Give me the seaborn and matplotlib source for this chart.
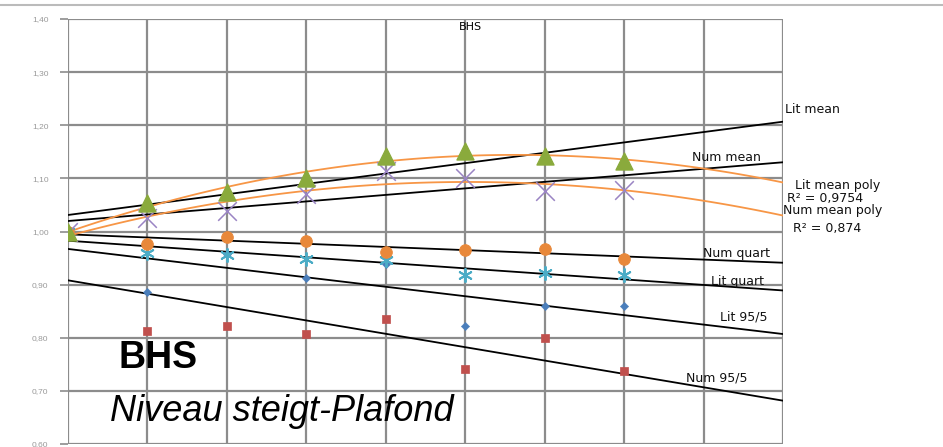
"""
BHS chart - normalised level per period with trendlines
"""

import numpy as np
import pandas as pd
import matplotlib
matplotlib.use("Agg")
import matplotlib.pyplot as plt
import seaborn as sns


periods = [0, 1, 2, 3, 4, 5, 6, 7]
lit_mean = [1.00, 1.053, 1.075, 1.100, 1.142, 1.151, 1.142, 1.132]
num_mean = [1.00, 1.026, 1.038, 1.070, 1.113, 1.100, 1.076, 1.079]
num_quart = [1.00, 0.976, 0.990, 0.982, 0.962, 0.965, 0.968, 0.948]
lit_quart = [1.00, 0.960, 0.955, 0.949, 0.947, 0.919, 0.922, 0.918]
lit_95_5 = [1.00, 0.887, 0.958, 0.913, 0.938, 0.823, 0.860, 0.860]
num_95_5 = [1.00, 0.813, 0.823, 0.808, 0.836, 0.742, 0.800, 0.738]

y_ticks = [0.60, 0.70, 0.80, 0.90, 1.00, 1.10, 1.20, 1.30, 1.40]
forecast_end = 9

GREEN = "#8aaa3c"
PURPLE = "#9a84c4"
ORANGE = "#e8883a"
CYAN = "#4bacc6"
BLUE = "#4a7ebb"
RED = "#c0504d"
GRID = "#8c8c8c"


def trend(y, deg):
    coef = np.polyfit(periods, y, deg)
    xs = np.linspace(0, forecast_end, 100)
    return pd.DataFrame({"x": xs, "y": np.polyval(coef, xs)})


if __name__ == "__main__":
    sns.set_style("white")
    plt.rcParams["font.family"] = ["Liberation Sans", "DejaVu Sans"]

    fig = plt.figure(figsize=(9.43, 4.47), dpi=100)
    ax = fig.add_axes([68 / 943, 3 / 447, (783 - 68) / 943, (444 - 19) / 447])

    # grid
    for gx in range(forecast_end + 1):
        ax.axvline(gx, color=GRID, lw=1.6, zorder=0)
    for gy in y_ticks:
        ax.axhline(gy, color=GRID, lw=1.6, zorder=0)

    # linear trendlines
    for ser in [lit_mean, num_mean, num_quart, lit_quart, lit_95_5, num_95_5]:
        sns.lineplot(data=trend(ser, 1), x="x", y="y", color="black", lw=1.3, ax=ax, zorder=2)
    # polynomial trendlines for the means
    for ser in [lit_mean, num_mean]:
        sns.lineplot(data=trend(ser, 2), x="x", y="y", color="#f79646", lw=1.3, ax=ax, zorder=2)

    sns.scatterplot(x=periods, y=num_95_5, marker="s", s=40, color=RED, edgecolor=RED, ax=ax, zorder=3)
    sns.scatterplot(x=periods, y=lit_95_5, marker="D", s=18, color=BLUE, edgecolor=BLUE, ax=ax, zorder=3)
    sns.scatterplot(x=periods, y=lit_quart, marker=(6, 2, 0), s=90, color=CYAN, linewidth=1.4, ax=ax, zorder=3)
    sns.scatterplot(x=periods, y=num_quart, marker="o", s=70, color=ORANGE, edgecolor=ORANGE, ax=ax, zorder=3)
    sns.scatterplot(x=periods, y=num_mean, marker="x", s=180, color=PURPLE, linewidth=1.1, ax=ax, zorder=3)
    sns.scatterplot(x=periods, y=lit_mean, marker="^", s=150, color=GREEN, edgecolor=GREEN, ax=ax, zorder=4)

    ax.set_xlim(0, forecast_end)
    ax.set_ylim(0.60, 1.40)
    ax.set_xticks([])
    ax.set_yticks(y_ticks)
    ax.set_yticklabels([f"{v:.2f}".replace(".", ",") for v in y_ticks], fontsize=6, color="#999999")
    ax.tick_params(axis="y", length=6, width=1.2, color=GRID, pad=8, left=True)
    ax.set_xlabel("")
    ax.set_ylabel("")
    for sp in ax.spines.values():
        sp.set_visible(False)

    ax.text(5.06, 1.385, "BHS", ha="center", va="center", fontsize=8, family="DejaVu Sans", color="black")

    lab = dict(fontsize=9, family="DejaVu Sans", va="center", ha="left", color="#111111")
    ax.text(9.02, 1.229, "Lit mean", **lab)
    ax.text(7.85, 1.140, "Num mean", **lab)
    ax.text(9.15, 1.086, "Lit mean poly", **lab)
    ax.text(9.05, 1.062, "R² = 0,9754", **lab)
    ax.text(9.00, 1.039, "Num mean poly", **lab)
    ax.text(9.13, 1.006, "R² = 0,874", **lab)
    ax.text(7.99, 0.959, "Num quart", **lab)
    ax.text(8.09, 0.905, "Lit quart", **lab)
    ax.text(8.21, 0.839, "Lit 95/5", **lab)
    ax.text(7.78, 0.724, "Num 95/5", **lab)

    ax.text(0.63, 0.762, "BHS", fontsize=27, fontweight="bold", va="center", ha="left", color="black")
    ax.text(0.53, 0.662, "Niveau steigt-Plafond", fontsize=26, fontstyle="italic", va="center", ha="left",
            color="black")

    fig.add_artist(plt.Line2D([0, 1], [1 - 5 / 447, 1 - 5 / 447], color="#bbbbbb", lw=1.5))

    fig.savefig("out.png", dpi=100)
